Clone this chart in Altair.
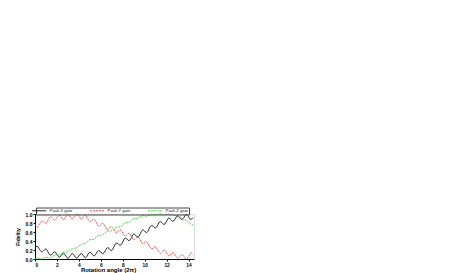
import altair as alt
import pandas as pd

x_vals = [round(i * 0.2, 1) for i in range(73)]

pauli_x = [0.24, 0.28, 0.22, 0.16, 0.19, 0.22, 0.15, 0.09, 0.12, 0.16,
           0.10, 0.04, 0.08, 0.13, 0.07, 0.02, 0.07, 0.12, 0.07, 0.02,
           0.07, 0.12, 0.08, 0.03, 0.09, 0.15, 0.11, 0.07, 0.13, 0.19,
           0.15, 0.12, 0.18, 0.25, 0.22, 0.19, 0.27, 0.35, 0.33, 0.31,
           0.38, 0.46, 0.44, 0.41, 0.48, 0.55, 0.52, 0.49, 0.56, 0.64,
           0.62, 0.59, 0.67, 0.74, 0.72, 0.69, 0.76, 0.83, 0.80, 0.77,
           0.84, 0.91, 0.87, 0.84, 0.90, 0.96, 0.92, 0.88, 0.93, 0.99,
           0.94, 0.88, 0.92]

pauli_y = [0.77, 0.71, 0.77, 0.84, 0.82, 0.80, 0.87, 0.94, 0.90, 0.86,
           0.92, 0.97, 0.93, 0.88, 0.94, 0.99, 0.94, 0.90, 0.95, 1.00,
           0.95, 0.89, 0.93, 0.97, 0.90, 0.83, 0.86, 0.88, 0.81, 0.73,
           0.76, 0.79, 0.72, 0.65, 0.69, 0.72, 0.65, 0.59, 0.62, 0.65,
           0.58, 0.51, 0.54, 0.57, 0.50, 0.43, 0.46, 0.49, 0.42, 0.34,
           0.36, 0.38, 0.30, 0.23, 0.25, 0.27, 0.20, 0.13, 0.16, 0.20,
           0.13, 0.07, 0.11, 0.14, 0.08, 0.02, 0.06, 0.10, 0.05, 0.00,
           0.05, 0.13, 0.10]

pauli_z = [0.00, 0.02, 0.01, 0.00, 0.02, 0.04, 0.03, 0.03, 0.06, 0.09,
           0.09, 0.09, 0.12, 0.15, 0.15, 0.16, 0.19, 0.23, 0.24, 0.25,
           0.29, 0.33, 0.34, 0.35, 0.39, 0.43, 0.43, 0.44, 0.48, 0.52,
           0.53, 0.54, 0.58, 0.62, 0.62, 0.63, 0.66, 0.70, 0.71, 0.72,
           0.76, 0.80, 0.81, 0.82, 0.86, 0.90, 0.90, 0.91, 0.94, 0.96,
           0.96, 0.95, 0.98, 0.99, 0.99, 0.98, 0.99, 1.00, 1.00, 0.98,
           1.00, 1.00, 0.99, 0.97, 0.97, 0.96, 0.93, 0.89, 0.88, 0.86,
           0.82, 0.78, 0.76]

series_names = ["Pauli-X gate", "Pauli-Y gate", "Pauli-Z gate"]
series_colors = ["#000000", "#ff2a2a", "#22dd22"]
series_dash = [[1, 0], [2, 1], [2, 1]]

rows = []
for name, vals in zip(series_names, [pauli_x, pauli_y, pauli_z]):
    for xv, yv in zip(x_vals, vals):
        rows.append({"angle": xv, "fidelity": yv, "gate": name})
df = pd.DataFrame(rows)

FONT = "Liberation Sans"

legend = alt.Legend(orient="none", legendX=1, legendY=-6.5,
                    direction="horizontal", title=None,
                    strokeColor="#444444", padding=0.6,
                    labelFontSize=4.2, labelFont=FONT, labelColor="#222222",
                    symbolType="M-3.5,0H3.5", symbolSize=16,
                    symbolStrokeWidth=0.9, labelOffset=8,
                    columnPadding=15, labelLimit=60)

chart = alt.Chart(df).mark_line(strokeWidth=0.9, interpolate="natural").encode(
    x=alt.X("angle:Q",
            scale=alt.Scale(domain=[0, 14.5], nice=False, zero=False),
            axis=alt.Axis(values=[0, 2, 4, 6, 8, 10, 12, 14], title="Rotation angle (2π)",
                          labelFontSize=4.8, labelFontWeight="bold", labelPadding=1,
                          tickSize=2, titleFontSize=6, titleFontWeight="bold",
                          titlePadding=0, titleX=73, grid=False, domainColor="black",
                          tickColor="black", labelColor="black", titleColor="black",
                          labelFont=FONT, titleFont=FONT)),
    y=alt.Y("fidelity:Q",
            scale=alt.Scale(domain=[0, 1.0], nice=False),
            axis=alt.Axis(values=[0, 0.2, 0.4, 0.6, 0.8, 1.0], format=".1f", title="Fidelity",
                          labelFontSize=5, labelFontWeight="bold", labelPadding=1,
                          tickSize=2, titleFontSize=5, titleFontWeight="bold",
                          titlePadding=5, grid=False, domainColor="black",
                          tickColor="black", labelColor="black", titleColor="black",
                          labelFont=FONT, titleFont=FONT)),
    color=alt.Color("gate:N",
                    scale=alt.Scale(domain=series_names, range=series_colors),
                    legend=legend),
    strokeDash=alt.StrokeDash("gate:N",
                              scale=alt.Scale(domain=series_names, range=series_dash),
                              legend=legend),
).properties(
    width=159,
    height=45,
    padding={"left": 27, "top": 206, "right": 10, "bottom": 14},
    autosize=alt.AutoSizeParams(type="none"),
).configure_view(
    stroke="black", strokeWidth=0.8
).configure(background="white")

chart.save("out.html", embed_options={"renderer": "svg", "actions": False})
